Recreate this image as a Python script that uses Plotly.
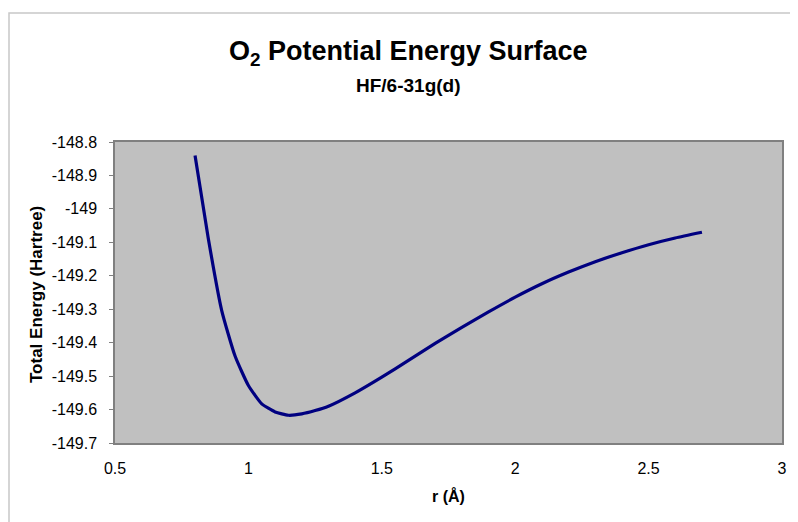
import plotly.graph_objects as go

# Data
r_values = [0.80, 0.85, 0.90, 0.95, 1.00, 1.05, 1.10, 1.15, 1.20, 1.25, 1.30,
            1.40, 1.50, 1.60, 1.70, 1.80, 1.90, 2.00, 2.10, 2.20, 2.30, 2.40,
            2.50, 2.60, 2.70]
energy_values = [-148.840, -149.090, -149.304, -149.440, -149.528, -149.583,
                 -149.607, -149.617, -149.613, -149.603, -149.590, -149.550,
                 -149.503, -149.453, -149.402, -149.354, -149.308, -149.264,
                 -149.224, -149.189, -149.158, -149.131, -149.107, -149.087,
                 -149.070]

x_tickvals = [0.5, 1.0, 1.5, 2.0, 2.5, 3.0]
x_ticktext = ["0.5", "1", "1.5", "2", "2.5", "3"]
y_tickvals = [-148.8, -148.9, -149.0, -149.1, -149.2, -149.3, -149.4, -149.5, -149.6, -149.7]
y_ticktext = ["-148.8", "-148.9", "-149", "-149.1", "-149.2", "-149.3", "-149.4",
              "-149.5", "-149.6", "-149.7"]

FONT = "Arial, Liberation Sans, Helvetica, sans-serif"

# The page body adds an 8px offset; positions below are in screenshot pixels.
OFF = 8
FIG_W, FIG_H = 798 - OFF, 522 - OFF
L, R, T, B = 115 - OFF, 782 - OFF, 142 - OFF, 443 - OFF
W, H = R - L, B - T

def px(x):
    return (x - OFF - L) / W

def py(y):
    return (B - (y - OFF)) / H

fig = go.Figure()
fig.add_trace(go.Scatter(
    x=r_values, y=energy_values, mode="lines",
    line=dict(color="#000080", width=3.2, shape="spline", smoothing=0.5),
    hoverinfo="x+y", showlegend=False,
))

fig.update_layout(
    width=FIG_W, height=FIG_H,
    margin=dict(l=L, r=FIG_W - R, t=T, b=FIG_H - B, pad=0),
    paper_bgcolor="white",
    plot_bgcolor="#C0C0C0",
    font=dict(family=FONT, color="black", size=16),
    xaxis=dict(
        range=[0.5, 3.0], tickvals=x_tickvals, ticktext=x_ticktext,
        showgrid=False, zeroline=False,
        showline=True, linecolor="#808080", linewidth=1.5, mirror=True,
        ticks="outside", ticklen=10, tickcolor="rgba(0,0,0,0)",
        tickfont=dict(size=16, family=FONT),
    ),
    yaxis=dict(
        range=[-149.7, -148.8], tickvals=y_tickvals, ticktext=y_ticktext,
        showgrid=False, zeroline=False,
        showline=True, linecolor="#808080", linewidth=1.5, mirror=True,
        ticks="outside", ticklen=4, tickcolor="#808080",
        ticklabelstandoff=9,
        tickfont=dict(size=16, family=FONT),
    ),
    annotations=[
        dict(text="<b>O<sub>2</sub> Potential Energy Surface</b>",
             xref="paper", yref="paper", x=px(408), y=py(53),
             xanchor="center", yanchor="middle", showarrow=False,
             font=dict(size=27, family=FONT, color="black")),
        dict(text="<b>HF/6-31g(d)</b>",
             xref="paper", yref="paper", x=px(408), y=py(85),
             xanchor="center", yanchor="middle", showarrow=False,
             font=dict(size=19, family=FONT, color="black")),
        dict(text="<b>Total Energy (Hartree)</b>",
             xref="paper", yref="paper", x=px(36), y=py(295),
             xanchor="center", yanchor="middle", showarrow=False, textangle=-90,
             font=dict(size=17, family=FONT, color="black")),
        dict(text="<b>r (Å)</b>",
             xref="paper", yref="paper", x=px(448), y=py(496),
             xanchor="center", yanchor="middle", showarrow=False,
             font=dict(size=16, family=FONT, color="black")),
    ],
    shapes=[
        dict(type="rect", xref="paper", yref="paper",
             x0=px(9), x1=px(805), y0=py(540), y1=py(13),
             line=dict(color="#C8C8C8", width=1.5), fillcolor="rgba(0,0,0,0)",
             layer="below"),
    ],
)

fig.write_html("out.html")
